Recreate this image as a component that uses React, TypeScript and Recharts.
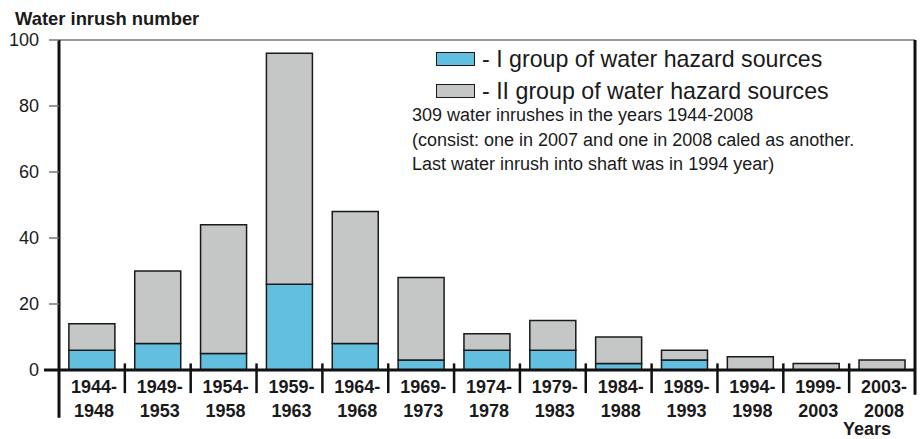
import { BarChart, Bar, XAxis, YAxis, ReferenceLine, Legend } from 'recharts';

const FONT = '"Liberation Sans", Arial, Helvetica, sans-serif';
const INK = '#1a1a1a';

// five-year periods
const categories = [
  '1944-1948', '1949-1953', '1954-1958', '1959-1963', '1964-1968', '1969-1973', '1974-1978',
  '1979-1983', '1984-1988', '1989-1993', '1994-1998', '1999-2003', '2003-2008',
];
// water inrushes per period, by group of hazard sources
const groupI = [6, 8, 5, 26, 8, 3, 6, 6, 2, 3, 0, 0, 0];
const groupII = [8, 22, 39, 70, 40, 25, 5, 9, 8, 3, 4, 2, 3];
const yTicks = [0, 20, 40, 60, 80, 100];
const notes = [
  '309 water inrushes in the years 1944-2008',
  '(consist: one in 2007 and one in 2008 caled as another.',
  'Last water inrush into shaft was in 1994 year)',
];

const data = categories.map((period, i) => ({ period, groupI: groupI[i], groupII: groupII[i] }));
const first = categories[0];
const last = categories[categories.length - 1];

function PeriodTick({ x, y, payload }: any) {
  const [from, to] = String(payload.value).split('-');
  const cx = x + 2;
  return (
    <text x={cx} y={y} textAnchor="middle" fontSize={18} fontWeight="bold" fill={INK} fontFamily={FONT}>
      <tspan x={cx} dy={15}>{from}-</tspan>
      <tspan x={cx} dy={24}>{to}</tspan>
    </text>
  );
}

function CountTick({ x, y, payload }: any) {
  const zero = payload.value === 0;
  return (
    <g>
      <line
        x1={zero ? x + 5 : x + 10}
        x2={x + 20}
        y1={y}
        y2={y}
        stroke={zero ? '#111' : '#777'}
        strokeWidth={zero ? 3 : 1.5}
      />
      <text x={x} y={y} dy={6} textAnchor="end" fontSize={18} fill={INK} fontFamily={FONT}>
        {payload.value}
      </text>
    </g>
  );
}

function HazardLegend({ payload }: any) {
  return (
    <div style={{ fontFamily: FONT, color: INK }}>
      {(payload ?? []).map((entry: any) => (
        <div key={entry.value} style={{ display: 'flex', alignItems: 'center', height: 32, paddingLeft: 24, fontSize: 23.2 }}>
          <span
            style={{
              display: 'inline-block',
              boxSizing: 'border-box',
              width: 39,
              height: 14,
              background: entry.color,
              border: `1.5px solid ${INK}`,
              marginRight: 7,
            }}
          />
          <span>- {entry.value}</span>
        </div>
      ))}
      <div style={{ fontSize: 18, lineHeight: '24.5px', marginTop: -4 }}>
        {notes.map((line) => (
          <div key={line}>{line}</div>
        ))}
      </div>
    </div>
  );
}

export default function App() {
  return (
    <div style={{ position: 'absolute', left: 0, top: 0, width: 920, height: 439, fontFamily: FONT, background: '#fff' }}>
      <div style={{ position: 'absolute', left: 15, top: 10, fontSize: 18.4, lineHeight: '18px', fontWeight: 'bold', color: INK }}>
        Water inrush number
      </div>
      <BarChart width={920} height={439} data={data} margin={{ top: 40, right: 5, left: 0, bottom: 0 }} barCategoryGap="15%">
        <XAxis
          dataKey="period"
          height={69}
          interval={0}
          tickLine={false}
          axisLine={{ stroke: '#111', strokeWidth: 3 }}
          tick={<PeriodTick />}
        />
        <YAxis
          width={59}
          domain={[0, 100]}
          ticks={yTicks}
          interval={0}
          tickSize={10}
          tickMargin={10}
          tickLine={false}
          axisLine={false}
          tick={<CountTick />}
        />
        <ReferenceLine y={100} stroke="#777" strokeWidth={1.5} />
        <Bar dataKey="groupI" name="I group of water hazard sources" stackId="a" fill="#62bfe0" stroke={INK} strokeWidth={1.5} isAnimationActive={false} />
        <Bar dataKey="groupII" name="II group of water hazard sources" stackId="a" fill="#c5c6c6" stroke={INK} strokeWidth={1.5} isAnimationActive={false} />
        <ReferenceLine
          segment={[{ x: first, y: 100 }, { x: first, y: -14.5 }]}
          position="start"
          stroke="#111"
          strokeWidth={3}
          ifOverflow="visible"
        />
        <ReferenceLine
          segment={[{ x: last, y: 100 }, { x: last, y: -7.5 }]}
          position="end"
          stroke="#111"
          strokeWidth={3}
          ifOverflow="visible"
        />
        {categories.slice(1).map((c) => (
          <ReferenceLine
            key={c}
            segment={[{ x: c, y: 2 }, { x: c, y: -7 }]}
            position="start"
            stroke="#111"
            strokeWidth={2.5}
            ifOverflow="visible"
          />
        ))}
        <Legend
          layout="vertical"
          align="center"
          verticalAlign="middle"
          content={<HazardLegend />}
          wrapperStyle={{ left: 412, top: 43, width: 500, right: 'auto', bottom: 'auto' }}
        />
      </BarChart>
      <div style={{ position: 'absolute', left: 843, top: 421, fontSize: 18, lineHeight: '16px', fontWeight: 'bold', color: INK }}>
        Years
      </div>
    </div>
  );
}
